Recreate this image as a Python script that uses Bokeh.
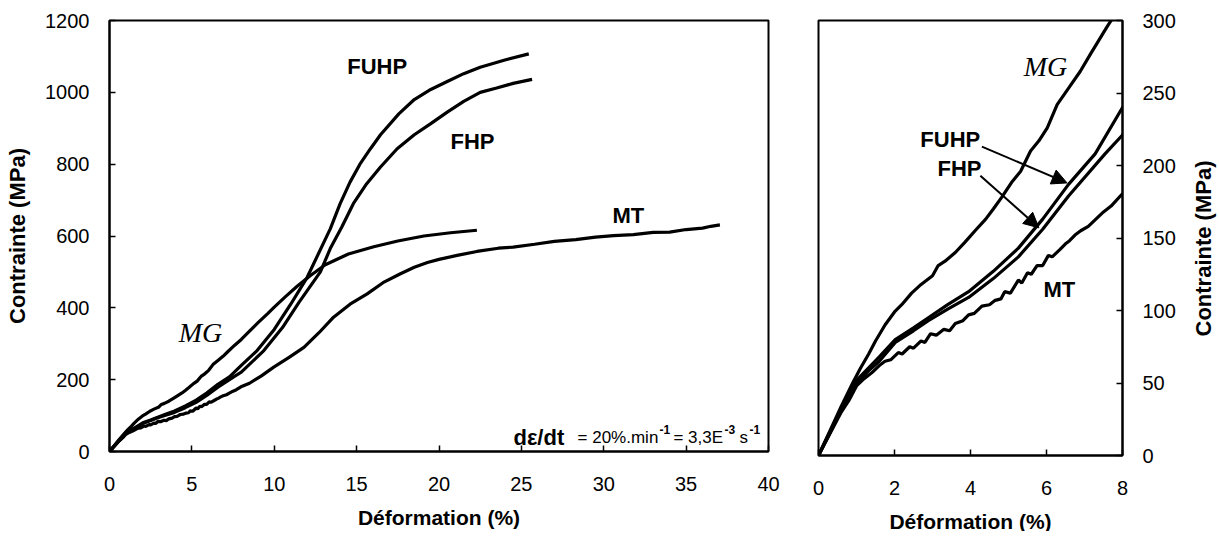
from bokeh.plotting import figure
from bokeh.layouts import row
from bokeh.models import Range1d, FixedTicker, Arrow, NormalHead
from bokeh.core.properties import value
from bokeh.embed import file_html
from bokeh.resources import INLINE
import math

# ---------------- data (strain %, stress MPa) ----------------
mg_strain = [0, 0.3, 0.6, 0.9, 1.1, 1.32, 1.5, 1.75, 2.0, 2.19, 2.45, 2.7, 3.0, 3.15, 3.33, 3.6, 3.85,
             4.12, 4.4, 4.6, 4.82, 5.1, 5.32, 5.58, 5.8, 6.02, 6.28, 6.6, 6.89, 7.16, 7.6, 8.0,
             8.5, 9.0, 9.6, 10.0, 10.7, 11.39, 12.2, 13.1, 14.5, 16.04, 17.5, 19.08, 20.7, 22.3]
mg_stress = [0, 17, 34, 50, 60, 70, 79, 90, 99, 104, 112, 118, 124, 131, 134, 140, 147,
             155, 163, 170, 178, 189, 196, 210, 217, 226, 242, 254, 265, 277, 296, 312,
             335, 358, 384, 402, 432, 460, 490, 520, 550, 570, 586, 600, 609, 616]

fuhp_strain = [0, 0.5, 0.97, 1.3, 1.6, 2.02, 2.5, 2.89, 3.4, 3.95, 4.6, 5.26, 5.9, 6.58, 7.28, 8.0,
               8.96, 10.0, 11.0, 12.0, 13.4, 14.0, 14.6, 15.2, 15.84, 16.45, 17.56, 18.5, 19.5,
               20.5, 21.5, 22.5, 24.0, 25.45]
fuhp_stress = [0, 27, 51, 60, 68, 80, 88, 95, 104, 113, 127, 143, 163, 187, 208, 240,
               281, 340, 410, 485, 620, 690, 750, 800, 843, 882, 940, 980, 1008,
               1030, 1052, 1070, 1090, 1107]

fhp_strain = [0, 0.5, 0.97, 1.3, 1.6, 2.02, 2.5, 2.89, 3.4, 3.95, 4.6, 5.26, 5.9, 6.58, 7.54, 8.0,
              9.37, 10.5, 11.5, 12.8, 13.4, 14.1, 14.8, 15.6, 16.45, 17.46, 18.5, 19.5, 20.5,
              21.5, 22.5, 23.5, 24.5, 25.65]
fhp_stress = [0, 26, 49, 58, 65, 78, 86, 93, 101, 109, 122, 137, 156, 179, 208, 221,
              281, 345, 415, 500, 565, 625, 690, 745, 792, 843, 882, 913, 945,
              975, 1000, 1012, 1025, 1036]

mt_strain = [0, 0.3, 0.6, 0.8, 1.0, 1.2, 1.4, 1.6, 1.75, 1.9, 2.1, 2.2, 2.4, 2.5, 2.7, 2.8, 2.95,
             3.1, 3.3, 3.45, 3.6, 3.8, 3.95, 4.1, 4.3, 4.5, 4.65, 4.8, 4.9, 5.05, 5.26, 5.35, 5.5,
             5.6, 5.75, 5.9, 6.05, 6.15, 6.35, 6.5, 6.6, 6.75, 6.9, 7.1, 7.3, 7.5, 7.7, 7.98,
             8.5, 9.2, 9.97, 10.9, 11.8, 12.7, 13.6, 14.6, 15.64, 16.6, 17.66, 18.5, 19.3, 20.0,
             21.1, 22.3, 23.6, 24.5, 25.8, 27.0, 28.3, 29.5, 30.6, 31.8, 33.0, 34.0, 35.0, 36.0,
             36.5, 37.05]
mt_stress = [0, 15, 30, 38, 48, 53, 57, 62, 65, 66, 71, 70, 75, 74, 79, 78, 84,
             83, 87, 86, 91, 93, 97, 98, 103, 104, 107, 108, 113, 112, 121, 119, 126,
             125, 131, 131, 138, 137, 142, 146, 148, 152, 155, 158, 163, 168, 172, 180,
             190, 210, 235, 262, 290, 330, 374, 410, 439, 470, 495, 513, 526, 535,
             546, 557, 566, 569, 577, 585, 590, 597, 601, 604, 610, 611, 618, 622,
             627, 631]

left_x_ticks = [0, 5, 10, 15, 20, 25, 30, 35, 40]
left_y_ticks = [0, 200, 400, 600, 800, 1000, 1200]
right_x_ticks = [0, 2, 4, 6, 8]
right_y_ticks = [0, 50, 100, 150, 200, 250, 300]

x_label = "Déformation (%)"
y_label = "Contrainte (MPa)"

SANS = "Liberation Sans"
SERIF = "Liberation Serif"
LW = 3.2

series = [(mg_strain, mg_stress), (fuhp_strain, fuhp_stress),
          (fhp_strain, fhp_stress), (mt_strain, mt_stress)]


def style(p, xt, yt):
    p.xgrid.visible = False
    p.ygrid.visible = False
    p.outline_line_color = "black"
    p.outline_line_width = 2
    p.outline_line_alpha = 1
    p.background_fill_color = "white"
    p.border_fill_color = "white"
    p.xaxis.ticker = FixedTicker(ticks=xt)
    p.yaxis.ticker = FixedTicker(ticks=yt)
    for ax in p.axis:
        ax.axis_line_color = "black"
        ax.axis_line_width = 2
        ax.major_tick_in = 6
        ax.major_tick_out = 0
        ax.major_tick_line_color = "black"
        ax.major_tick_line_width = 1.5
        ax.minor_tick_in = 0
        ax.minor_tick_out = 0
        ax.major_label_text_font = SANS
        ax.major_label_text_font_size = "20px"
        ax.major_label_text_color = "black"
        ax.axis_label_text_font = SANS
        ax.axis_label_text_font_style = "bold"
        ax.axis_label_text_color = "black"
    p.xaxis.major_label_standoff = 25
    p.xaxis.axis_label = x_label
    p.xaxis.axis_label_text_font_size = "21px"
    p.xaxis.axis_label_standoff = 12


# ---------------- left figure ----------------
p1 = figure(frame_width=659, frame_height=431, min_border_left=109, min_border_right=16,
            min_border_top=20, min_border_bottom=79,
            x_range=Range1d(0, 40), y_range=Range1d(0, 1200),
            output_backend="svg", toolbar_location=None)
style(p1, left_x_ticks, left_y_ticks)
p1.yaxis.axis_label = y_label
p1.yaxis.axis_label_text_font_size = "22px"
p1.yaxis.major_label_standoff = 20
p1.yaxis.axis_label_standoff = 12

for xs, ys in series:
    p1.line(xs, ys, line_color="black", line_width=LW)

p1.text(x=[14.43, 20.7, 30.53], y=[1072, 863, 657], text=["FUHP", "FHP", "MT"],
        text_font=value(SANS), text_font_style="bold", text_font_size="22px",
        text_align="left", text_baseline="middle", text_color="black")
p1.text(x=[4.2], y=[330], text=["MG"], text_font=value(SERIF), text_font_style="italic",
        text_font_size="28px", text_align="left", text_baseline="middle", text_color="black")

# strain-rate annotation
p1.text(x=[24.52], y=[39], text=["d\u03b5/dt"], text_font=value(SANS), text_font_style="bold",
        text_font_size="22px", text_align="left", text_baseline="alphabetic", text_color="black")
p1.text(x=[28.41, 34.23, 38.24], y=[39, 39, 39], text=["= 20%.min", "= 3,3E", "s"],
        text_font=value(SANS), text_font_size="17px", text_align="left",
        text_baseline="alphabetic", text_color="black")
p1.text(x=[33.38, 37.33, 38.85], y=[62, 62, 62], text=["-1", "-3", "-1"],
        text_font=value(SANS), text_font_style="bold", text_font_size="12px", text_align="left",
        text_baseline="alphabetic", text_color="black")

# ---------------- right figure ----------------
p2 = figure(frame_width=304, frame_height=435, min_border_left=34, min_border_right=60,
            min_border_top=16, min_border_bottom=79,
            x_range=Range1d(0, 8), y_range=Range1d(0, 300), y_axis_location="right",
            output_backend="svg", toolbar_location=None)
style(p2, right_x_ticks, right_y_ticks)
p2.yaxis.major_label_standoff = 20

for xs, ys in series:
    p2.line(xs, ys, line_color="black", line_width=LW)

p2.text(x=[2.68, 3.13, 5.92], y=[218, 197.6, 114.5], text=["FUHP", "FHP", "MT"],
        text_font=value(SANS), text_font_style="bold", text_font_size="22px",
        text_align="left", text_baseline="middle", text_color="black")
p2.text(x=[5.4], y=[268.6], text=["MG"], text_font=value(SERIF), text_font_style="italic",
        text_font_size="28px", text_align="left", text_baseline="middle", text_color="black")

p2.add_layout(Arrow(end=NormalHead(size=15, fill_color="black", line_color="black"),
                    x_start=4.30, y_start=213, x_end=6.54, y_end=188,
                    line_color="black", line_width=2))
p2.add_layout(Arrow(end=NormalHead(size=15, fill_color="black", line_color="black"),
                    x_start=4.26, y_start=193, x_end=5.80, y_end=157,
                    line_color="black", line_width=2))

# ---------------- narrow strip holding the right-hand axis title ----------------
p3 = figure(frame_width=35, frame_height=530, min_border=0,
            x_range=Range1d(0, 35), y_range=Range1d(0, 530),
            x_axis_location=None, y_axis_location=None,
            output_backend="svg", toolbar_location=None)
p3.xgrid.visible = False
p3.ygrid.visible = False
p3.outline_line_color = None
p3.background_fill_color = "white"
p3.border_fill_color = "white"
p3.text(x=[20.5], y=[302], text=[y_label], angle=math.pi / 2,
        text_font=value(SANS), text_font_style="bold", text_font_size="22px",
        text_align="center", text_baseline="middle", text_color="black")

layout = row(p1, p2, p3)
open("out.html", "w").write(file_html(layout, INLINE))
